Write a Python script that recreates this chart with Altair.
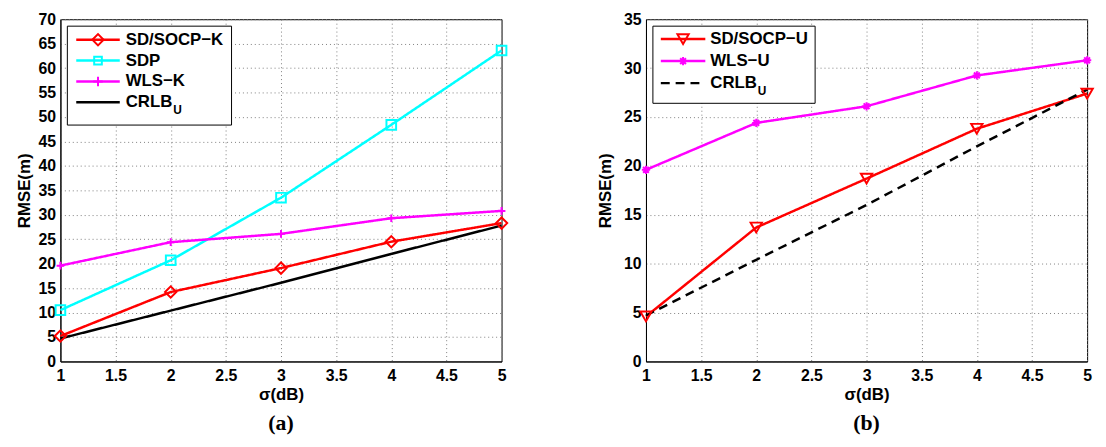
import altair as alt
import pandas as pd

# ---------------- data ----------------
sigma = [1, 2, 3, 4, 5]

# panel (a)
sd_socp_k = [5.2, 14.2, 19.1, 24.5, 28.3]
sdp = [10.5, 20.7, 33.5, 48.4, 63.6]
wls_k = [19.6, 24.4, 26.1, 29.3, 30.8]
crlb_u_a = [4.7, 10.4, 16.1, 22.0, 27.8]

# panel (b)
sd_socp_u = [4.6, 13.7, 18.7, 23.8, 27.4]
wls_u = [19.6, 24.4, 26.1, 29.25, 30.8]
crlb_u_b = [4.7, 10.4, 16.0, 22.0, 27.8]

x_ticks = [1, 1.5, 2, 2.5, 3, 3.5, 4, 4.5, 5]
y_ticks_a = [0, 5, 10, 15, 20, 25, 30, 35, 40, 45, 50, 55, 60, 65, 70]
y_ticks_b = [0, 5, 10, 15, 20, 25, 30, 35]

names_a = ["SD/SOCP−K", "SDP", "WLS−K", "CRLB"]
names_b = ["SD/SOCP−U", "WLS−U", "CRLB"]
subscript = "U"

# ---------------- styles ----------------
RED, CYAN, MAG, BLACK = "#ff0000", "#00ffff", "#ff00ff", "#000000"
PLUS = "M-1,0L1,0M0,-1L0,1"
STAR = "M-1,0L1,0M0,-1L0,1M-0.7,-0.7L0.7,0.7M-0.7,0.7L0.7,-0.7"
FONT = "Liberation Sans"
W, H = 446, 346


def panel(names, values, colors, shapes, sizes, dashes, ymax, yticks,
          caption, leg, title_pad):
    rows = []
    for name, vals in zip(names, values):
        for s, v in zip(sigma, vals):
            rows.append({"sigma": s, "rmse": v, "series": name})
    df = pd.DataFrame(rows)

    x = alt.X("sigma:Q", scale=alt.Scale(domain=[1, 5], nice=False, zero=False),
              axis=alt.Axis(values=x_ticks, format="~g", title="σ(dB)",
                            labelFlush=False, labelPadding=6, titlePadding=3))
    y = alt.Y("rmse:Q", scale=alt.Scale(domain=[0, ymax], nice=False),
              axis=alt.Axis(values=yticks, title="RMSE(m)", labelPadding=5,
                            titlePadding=title_pad))
    color = alt.Color("series:N", scale=alt.Scale(domain=names, range=colors), legend=None)
    dash = alt.StrokeDash("series:N", scale=alt.Scale(domain=names, range=dashes), legend=None)

    lines = alt.Chart(df).mark_line(strokeWidth=2.5).encode(
        x=x, y=y, color=color, strokeDash=dash, order="sigma:Q")

    mk_names = [n for n, s in zip(names, shapes) if s]
    mk_shapes = [s for s in shapes if s]
    mk_sizes = [z for z, s in zip(sizes, shapes) if s]
    points = alt.Chart(df).transform_filter(
        alt.FieldOneOfPredicate(field="series", oneOf=mk_names)
    ).mark_point(filled=False, strokeWidth=2, opacity=1).encode(
        x=x, y=y, color=color,
        shape=alt.Shape("series:N", scale=alt.Scale(domain=mk_names, range=mk_shapes), legend=None),
        size=alt.Size("series:N", scale=alt.Scale(domain=mk_names, range=mk_sizes), legend=None),
    )

    # ----- legend box drawn in pixel space -----
    one = pd.DataFrame({"k": [0]})
    bx0, bx1, by0, by1, row0, gap, lx0, lx1, tx = leg
    layers = [lines, points]
    layers.append(alt.Chart(one).mark_rect(fill="white", stroke="black", strokeWidth=1).encode(
        x=alt.value(bx0), x2=alt.value(bx1), y=alt.value(by0), y2=alt.value(by1)))
    for i, name in enumerate(names):
        py = row0 + gap * i
        layers.append(alt.Chart(one).mark_rule(
            color=colors[i], strokeWidth=2.5, strokeDash=dashes[i]).encode(
            x=alt.value(lx0), x2=alt.value(lx1), y=alt.value(py)))
        if shapes[i]:
            layers.append(alt.Chart(one).mark_point(
                filled=False, strokeWidth=2, opacity=1, color=colors[i],
                shape=shapes[i], size=sizes[i]).encode(
                x=alt.value((lx0 + lx1) / 2), y=alt.value(py)))
        layers.append(alt.Chart(one).mark_text(
            align="left", baseline="middle", font=FONT, fontSize=17,
            fontWeight="bold", color="black").encode(
            x=alt.value(tx), y=alt.value(py), text=alt.value(name)))
        if name == "CRLB":
            layers.append(alt.Chart(one).mark_text(
                align="left", baseline="middle", font=FONT, fontSize=12,
                fontWeight="bold", color="black").encode(
                x=alt.value(tx + 48), y=alt.value(py + 8), text=alt.value(subscript)))

    return alt.layer(*layers).properties(
        width=W, height=H,
        title=alt.TitleParams(caption, orient="bottom", anchor="middle",
                              font="Liberation Serif", fontSize=22,
                              fontWeight="bold", color="black", offset=11),
    )


pa = panel(names_a, [sd_socp_k, sdp, wls_k, crlb_u_a],
           [RED, CYAN, MAG, BLACK],
           ["diamond", "square", PLUS, None],
           [130, 60, 90, 0],
           [[1, 0], [1, 0], [1, 0], [1, 0]],
           70, y_ticks_a, "(a)",
           (7, 173, 7, 107, 20.7, 21.1, 16, 60, 66), 4)

pb = panel(names_b, [sd_socp_u, wls_u, crlb_u_b],
           [RED, MAG, BLACK],
           ["triangle-down", STAR, None],
           [130, 70, 0],
           [[1, 0], [1, 0], [9, 6]],
           35, y_ticks_b, "(b)",
           (7, 171, 7, 85, 20, 22.3, 15, 60, 65), 9)

chart = alt.hconcat(pa, pb, spacing=84).resolve_scale(
    color="independent", shape="independent", size="independent",
    strokeDash="independent",
).properties(
    padding={"left": 7, "top": 0, "right": 0, "bottom": 0}
).configure_view(
    stroke="black", strokeWidth=1
).configure_axis(
    labelFont=FONT, labelFontSize=16, labelFontWeight="bold", labelColor="black",
    titleFont=FONT, titleFontSize=17, titleFontWeight="bold", titleColor="black",
    grid=True, gridColor="#808080", gridDash=[1, 3], gridWidth=1, gridOpacity=1,
    ticks=False, domainColor="black", domainWidth=1,
)

chart.save("out.html", embed_options={"renderer": "svg", "actions": False})
